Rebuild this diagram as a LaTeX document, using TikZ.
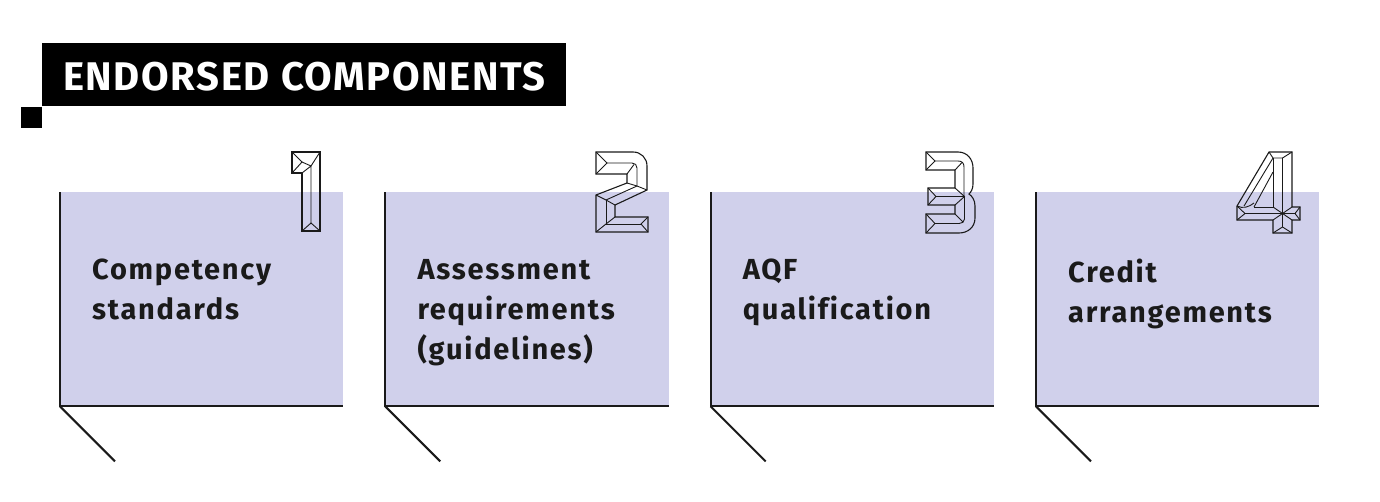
\documentclass[tikz,border=0pt]{standalone}
\usepackage{fontspec}
\setmainfont{Fira Sans}
\definecolor{lav}{HTML}{D0D0EB}
\definecolor{ink}{HTML}{1A1A1A}

% chiseled outline numerals, drawn in a 1pt grid with y pointing down
\newcommand{\numone}{%
  \draw[glyph] (0,0) -- (28,0) -- (28,79) -- (10,79) -- (10,21) -- (0,21) -- cycle;
  \draw[bevel] (0,0) -- (10,10) -- (0,21);
  \draw[bevel] (10,10) -- (19,14) -- (28,0);
  \draw[bevel] (10,21) -- (19,14) -- (19,71);
  \draw[bevel] (10,79) -- (19,71) -- (28,79);
}
\newcommand{\numtwo}{%
  \draw[glyph] (0,0) -- (37,0) .. controls (45,0) and (51,6) .. (51,14) -- (51,38)
     -- (19,53) -- (19,65) -- (52,65) -- (52,80) -- (0,80) -- (0,43) -- (31,31)
     -- (31,22) -- (0,22) -- cycle;
  \draw[bevel] (0,0) -- (11,11) -- (0,22);
  \draw[bevel] (11,11) -- (36,11) .. controls (39,11) and (41,13) .. (41,16) -- (41,34);
  \draw[bevel] (31,22) -- (38,12.5);
  \draw[bevel] (31,31) -- (41,34) -- (51,38);
  \draw[bevel] (41,34) -- (10,48);
  \draw[bevel] (0,43) -- (10,48) -- (19,53);
  \draw[bevel] (10,48) -- (10,72) -- (45,72);
  \draw[bevel] (0,80) -- (10,72) -- (19,65);
  \draw[bevel] (52,65) -- (45,72) -- (52,80);
}
\newcommand{\numthree}{%
  \draw[glyph] (0,0) -- (32,0) .. controls (41,0) and (47,7) .. (47,16) -- (47,32)
     .. controls (47,37) and (45,40) .. (43,42)
     .. controls (46,44) and (49,48) .. (49,54) -- (49,66)
     .. controls (49,75) and (42,81) .. (33,81) -- (0,81) -- (0,62) -- (29,62)
     -- (29,53) -- (2,53) -- (2,36) -- (29,36) -- (29,18) -- (0,18) -- cycle;
  \draw[bevel] (0,0) -- (9,9) -- (0,18);
  \draw[bevel] (9,9) -- (32,9) .. controls (36,9) and (38,11) .. (38,15) -- (38,44.5);
  \draw[bevel] (29,18) -- (36,10.5);
  \draw[bevel] (2,36) -- (10,44.5) -- (2,53);
  \draw[bevel] (10,44.5) -- (38.5,44.5);
  \draw[bevel] (29,36) -- (38.5,44.5) -- (29,53);
  \draw[bevel] (38.5,44.5) -- (38.5,67) .. controls (38.5,70) and (36,71.5) .. (33,71.5) -- (9,71.5);
  \draw[bevel] (0,62) -- (9,71.5) -- (0,81);
  \draw[bevel] (29,62) -- (37,70);
}
\newcommand{\numfour}{%
  \draw[glyph] (32,0) -- (55,0) -- (55,55) -- (63,55) -- (63,68) -- (55,68) -- (55,81)
     -- (36,81) -- (36,68) -- (0,68) -- (0,54) -- cycle;
  \draw[bevel] (32,0) -- (36,6) -- (45.5,6) -- (55,0);
  \draw[bevel] (36,6) -- (36,55) -- (17,55);
  \draw[bevel] (36,20) -- (17,55);
  \draw[bevel] (36,6) -- (7,54);
  \draw[bevel] (0,54) .. controls (6,57) and (12,55) .. (17,51);
  \draw[bevel] (45.5,6) -- (45.5,75);
  \draw[bevel] (0,54) -- (8,61.5) -- (0,68);
  \draw[bevel] (8,61.5) -- (58,61.5);
  \draw[bevel] (36,55) -- (55,68);
  \draw[bevel] (55,55) -- (36,68);
  \draw[bevel] (63,55) -- (58,61.5) -- (63,68);
  \draw[bevel] (36,81) -- (45.5,75) -- (55,81);
}

\begin{document}
\begin{tikzpicture}[x=1pt, y=-1pt,
  card/.style={fill=lav, draw=none, minimum width=283pt, minimum height=214pt,
               inner sep=0pt, anchor=north west},
  frame/.style={draw=ink, line width=2pt},
  tail/.style={draw=ink, line width=2pt},
  cardtext/.style={anchor=north west, inner sep=0pt, align=left, text=ink,
               font=\fontsize{29}{40}\selectfont\bfseries\addfontfeature{LetterSpace=6,Ligatures=NoCommon}},
  glyph/.style={draw=ink, line width=1.1pt, line join=miter},
  bevel/.style={draw=ink, line width=0.9pt}]
\useasboundingbox (0,0) rectangle (1380,501);

% title bar
\node[fill=black, minimum width=524pt, minimum height=63pt, inner sep=0pt,
      anchor=north west] (hdr) at (42,43) {};
\node[fill=black, minimum size=21pt, inner sep=0pt, anchor=north east]
      (notch) at (hdr.south west) {};
\node[anchor=base west, inner sep=0pt, text=white,
      font=\fontsize{40}{40}\selectfont\bfseries\addfontfeature{LetterSpace=4}]
      (title) at (63,90.5) {ENDORSED COMPONENTS};

% four component cards
\foreach \i/\x in {1/60, 2/385.3, 3/710.6, 4/1036} {
  \node[card] (c\i) at (\x,192) {};
  \draw[frame] (c\i.north west) -- (c\i.south west) -- (c\i.south east);
  \coordinate (t\i) at ([shift={(55,55)}]c\i.south west);
  \draw[tail] (c\i.south west) -- (t\i);
}

\node[cardtext] (l1) at ([shift={(32,67)}]c1.north west) {Competency\\standards};
\node[cardtext] (l2) at ([shift={(32,67)}]c2.north west) {Assessment\\requirements\\(guidelines)};
\node[cardtext] (l3) at ([shift={(32,67)}]c3.north west) {AQF\\qualification};
\node[cardtext] (l4) at ([shift={(32,67)}]c4.north west) {Credit\\arrangements};

% numerals
\begin{scope}[shift={(292,152)}]\numone\end{scope}
\begin{scope}[shift={(596,152)}]\numtwo\end{scope}
\begin{scope}[shift={(926,152)}]\numthree\end{scope}
\begin{scope}[shift={(1237,152)}]\numfour\end{scope}
\end{tikzpicture}
\end{document}
